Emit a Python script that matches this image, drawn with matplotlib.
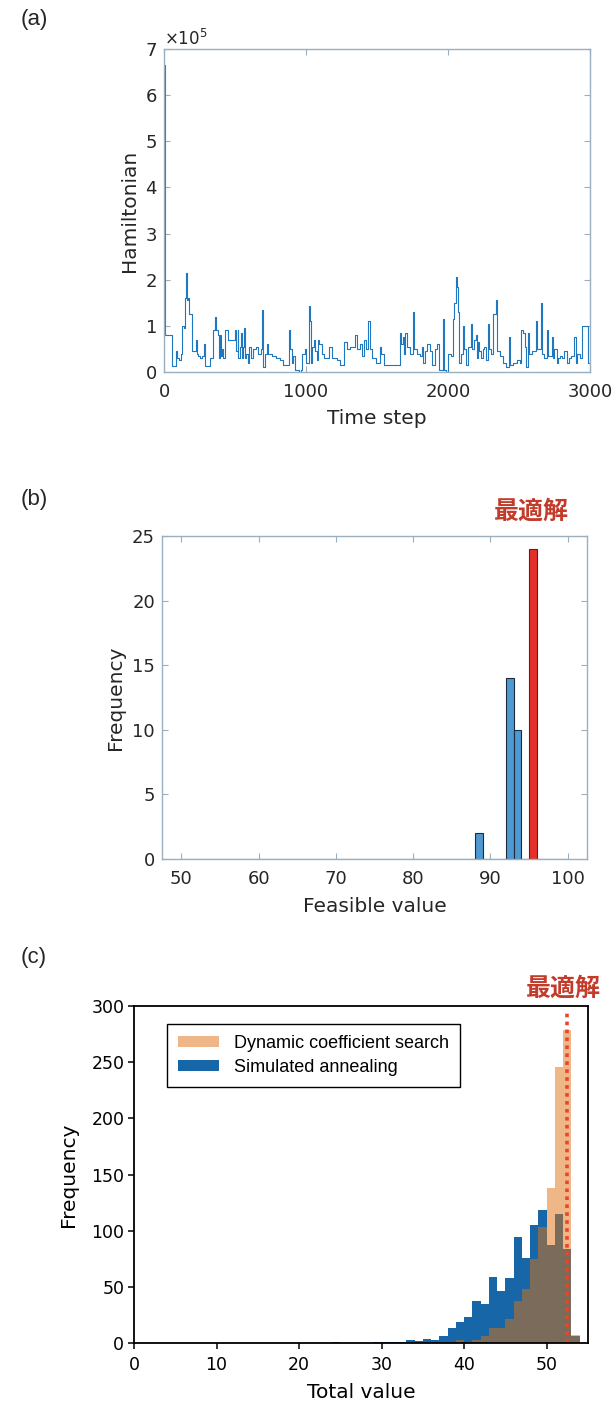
import numpy as np
import matplotlib
matplotlib.use("Agg")
import matplotlib.pyplot as plt
from matplotlib.patches import Patch

# ---------------- data ----------------
# (a) Hamiltonian trace (change points, value in units of 1e5)
time_steps = [0, 5, 54, 84, 94, 108, 120, 129, 140, 148, 155, 158, 162, 170, 178, 195, 225, 230, 240, 255,
              270, 280, 286, 292, 324, 347, 360, 368, 378, 385, 392, 398, 410, 418, 430, 453, 500, 510, 518, 524,
              532, 540, 548, 556, 562, 568, 578, 590, 600, 615, 630, 645, 660, 680, 690, 700, 712, 725, 735, 760,
              790, 815, 840, 880, 890, 900, 910, 925, 950, 965, 975, 990, 1000, 1020, 1028, 1035, 1045, 1055, 1065, 1075,
              1085, 1095, 1110, 1130, 1160, 1180, 1215, 1240, 1270, 1290, 1310, 1345, 1360, 1380, 1395, 1410, 1425, 1440, 1448, 1465,
              1490, 1520, 1530, 1550, 1660, 1668, 1680, 1690, 1700, 1710, 1730, 1755, 1764, 1785, 1805, 1815, 1826, 1840, 1855, 1870,
              1890, 1905, 1920, 1940, 1966, 1974, 1985, 2002, 2020, 2035, 2045, 2055, 2065, 2072, 2080, 2095, 2105, 2112, 2125, 2140,
              2160, 2168, 2180, 2195, 2203, 2210, 2220, 2232, 2245, 2255, 2265, 2280, 2288, 2300, 2315, 2338, 2348, 2365, 2385, 2410,
              2432, 2440, 2460, 2483, 2505, 2515, 2530, 2542, 2550, 2560, 2570, 2590, 2619, 2627, 2640, 2652, 2660, 2675, 2695, 2703,
              2730, 2738, 2750, 2765, 2777, 2790, 2805, 2820, 2835, 2850, 2865, 2890, 2898, 2910, 2930, 2945, 2988, 3000]
hamiltonian_e5 = [6.65, 0.8, 0.12, 0.45, 0.3, 0.25, 0.4, 1.0, 0.95, 1.6, 1.75, 2.15, 1.55, 1.6, 1.25, 0.45, 0.7, 0.4, 0.35, 0.3,
                  0.35, 0.6, 0.25, 0.12, 0.3, 0.9, 1.2, 0.9, 0.8, 0.3, 0.8, 0.35, 0.5, 0.3, 0.9, 0.7, 0.9, 0.45, 0.9, 0.3,
                  0.55, 0.85, 0.3, 0.55, 0.95, 0.3, 0.4, 0.2, 0.55, 0.3, 0.5, 0.55, 0.4, 0.5, 1.35, 0.1, 0.4, 0.6, 0.4, 0.35,
                  0.3, 0.25, 0.15, 0.9, 0.5, 0.2, 0.35, 0.05, 0.0, 0.05, 0.4, 0.5, 0.2, 1.42, 1.1, 0.2, 0.55, 0.7, 0.45, 0.25,
                  0.7, 0.6, 0.4, 0.3, 0.55, 0.3, 0.25, 0.15, 0.65, 0.5, 0.55, 0.8, 0.5, 0.6, 0.35, 0.7, 0.5, 1.1, 0.5, 0.3,
                  0.2, 0.55, 0.4, 0.15, 0.85, 0.6, 0.75, 0.4, 0.85, 0.55, 0.4, 1.3, 0.5, 0.4, 0.35, 0.55, 0.2, 0.45, 0.6, 0.45,
                  0.15, 0.5, 0.6, 0.05, 1.15, 0.05, 0.0, 0.4, 0.35, 1.15, 1.5, 2.05, 1.85, 1.3, 0.2, 0.4, 1.0, 0.5, 0.15, 0.55,
                  1.05, 0.5, 0.7, 0.8, 0.3, 0.65, 0.45, 0.3, 0.5, 0.55, 0.25, 1.05, 0.5, 0.4, 1.25, 1.55, 0.45, 0.35, 0.2, 0.1,
                  0.75, 0.15, 0.2, 0.25, 0.2, 0.9, 0.85, 0.55, 0.1, 0.85, 0.4, 0.45, 1.1, 0.5, 0.5, 1.5, 0.4, 0.3, 0.9, 0.35,
                  0.75, 0.3, 0.5, 0.2, 0.3, 0.35, 0.3, 0.45, 0.2, 0.3, 0.35, 0.75, 0.2, 0.4, 0.3, 1.0, 0.2, 0.2]

# (b) feasible-value histogram
feasible_bin_edges = list(range(50, 101))
feasible_values = [88, 92, 93, 95]
feasible_counts = [2, 14, 10, 24]
optimal_feasible = 95

# (c) total-value histograms (bins of width 1, left edges)
total_bin_left = list(range(24, 54))
sa_counts = [1, 0, 0, 0, 0, 1, 1, 1, 1, 3, 2, 4, 3, 6, 13, 19, 23, 37, 35, 59,
             46, 58, 94, 76, 105, 118, 87, 115, 84, 6]
dcs_counts = [0, 0, 0, 0, 0, 0, 0, 0, 0, 0, 0, 0, 0, 0, 0, 3, 1, 3, 6, 13,
              13, 21, 37, 48, 75, 103, 138, 246, 279, 7]
optimal_total = 52.5

# ---------------- style ----------------
W, H = 615, 1405
fig = plt.figure(figsize=(W / 100, H / 100), dpi=100)
plt.rcParams['font.family'] = ['DejaVu Sans']

ml_axis = '#9aafc0'
ml_text = '#262626'
red_txt = '#c23b2b'
cjk = ['Noto Sans CJK JP', 'DejaVu Sans']


def ax_rect(l, r, t, b):
    return [l / W, 1 - b / H, (r - l) / W, (b - t) / H]


def matlab_style(ax):
    for s in ax.spines.values():
        s.set_color(ml_axis)
        s.set_linewidth(1.0)
    ax.tick_params(direction='in', length=4, width=0.8, color=ml_axis,
                   top=True, right=True, labelcolor=ml_text, labelsize=13)


# ---------------- (a) ----------------
axa = fig.add_axes(ax_rect(164, 590, 49, 372))
ham = np.array(hamiltonian_e5) * 1e5
axa.step(time_steps, ham, where='post', color='#1f77c0', lw=0.8)
axa.set_xlim(0, 3000)
axa.set_ylim(0, 7e5)
axa.set_xticks([0, 1000, 2000, 3000])
axa.set_yticks(np.arange(0, 8) * 1e5)
axa.ticklabel_format(axis='y', style='sci', scilimits=(0, 0), useMathText=True)
axa.yaxis.get_offset_text().set_fontsize(12)
axa.yaxis.get_offset_text().set_color(ml_text)
matlab_style(axa)
axa.tick_params(axis='x', pad=8)
axa.tick_params(axis='y', pad=5)
axa.set_xlabel('Time step', fontsize=14.5, color=ml_text)
axa.set_ylabel('Hamiltonian', fontsize=14.5, color=ml_text)
axa.xaxis.set_label_coords(0.5, -0.115)
axa.yaxis.set_label_coords(-0.059, 0.5)

# ---------------- (b) ----------------
axb = fig.add_axes(ax_rect(162, 587, 536, 859))
lefts = feasible_bin_edges[:-1]
counts = [0] * len(lefts)
for v, c in zip(feasible_values, feasible_counts):
    counts[lefts.index(v)] = c
face = ['#e2312b' if x == optimal_feasible else '#4f99d2' for x in lefts]
edge = ['#7a1414' if x == optimal_feasible else '#1d2b3a' for x in lefts]
axb.bar(lefts, counts, width=1, align='edge', color=face, edgecolor=edge, linewidth=0.8)
axb.set_xlim(47.5, 102.5)
axb.set_ylim(0, 25)
axb.set_xticks(range(50, 101, 10))
axb.set_yticks(range(0, 26, 5))
matlab_style(axb)
axb.tick_params(axis='x', pad=8)
axb.tick_params(axis='y', pad=5)
axb.set_xlabel('Feasible value', fontsize=14.5, color=ml_text)
axb.set_ylabel('Frequency', fontsize=14.5, color=ml_text)
axb.xaxis.set_label_coords(0.5, -0.118)
axb.yaxis.set_label_coords(-0.086, 0.5)

# ---------------- (c) ----------------
axc = fig.add_axes(ax_rect(134, 588, 1006, 1343))
sa_col = '#1766a8'
dcs_col = '#e07010'
axc.bar(total_bin_left, sa_counts, width=1, align='edge', color=sa_col, linewidth=0)
axc.bar(total_bin_left, dcs_counts, width=1, align='edge', color=dcs_col, alpha=0.5, linewidth=0)
axc.vlines(optimal_total, 0, 296, colors='#e8452c', linestyles=(0, (1, 1.2)), linewidth=2.6)
axc.set_xlim(0, 55)
axc.set_ylim(0, 300)
axc.set_xticks(range(0, 51, 10))
axc.set_yticks(range(0, 301, 50))
for s in axc.spines.values():
    s.set_color('black')
    s.set_linewidth(1.3)
axc.tick_params(direction='out', length=4, width=1.1, labelsize=12.5, pad=3, colors='black')
axc.tick_params(axis='x', pad=5)
axc.set_xlabel('Total value', fontsize=14.5)
axc.set_ylabel('Frequency', fontsize=14.5)
axc.xaxis.set_label_coords(0.5, -0.119)
axc.yaxis.set_label_coords(-0.123, 0.5)
handles = [Patch(facecolor=dcs_col, alpha=0.5, edgecolor='none'),
           Patch(facecolor=sa_col, edgecolor='none')]
leg = axc.legend(handles, ['Dynamic coefficient search', 'Simulated annealing'],
                 loc='upper left', bbox_to_anchor=(0.0727, 0.9466), borderaxespad=0,
                 fancybox=False, framealpha=1, edgecolor='black',
                 prop={'family': ['Liberation Sans'], 'size': 13},
                 handlelength=2.3, handleheight=0.6, handletextpad=0.8,
                 labelspacing=0.4, borderpad=0.6)
leg.get_frame().set_linewidth(1.0)

# ---------------- annotations ----------------
for lab, y in [('(a)', 20), ('(b)', 500), ('(c)', 957)]:
    fig.text(21 / W, 1 - y / H, lab, fontsize=16, family=['Liberation Sans'],
             ha='left', va='center', color=ml_text)
fig.text(531 / W, 1 - 512 / H, '最適解', family=cjk, fontsize=18, weight='bold',
         color=red_txt, ha='center', va='center')
fig.text(563 / W, 1 - 989 / H, '最適解', family=cjk, fontsize=18, weight='bold',
         color=red_txt, ha='center', va='center')

fig.savefig('out.png', dpi=100)
